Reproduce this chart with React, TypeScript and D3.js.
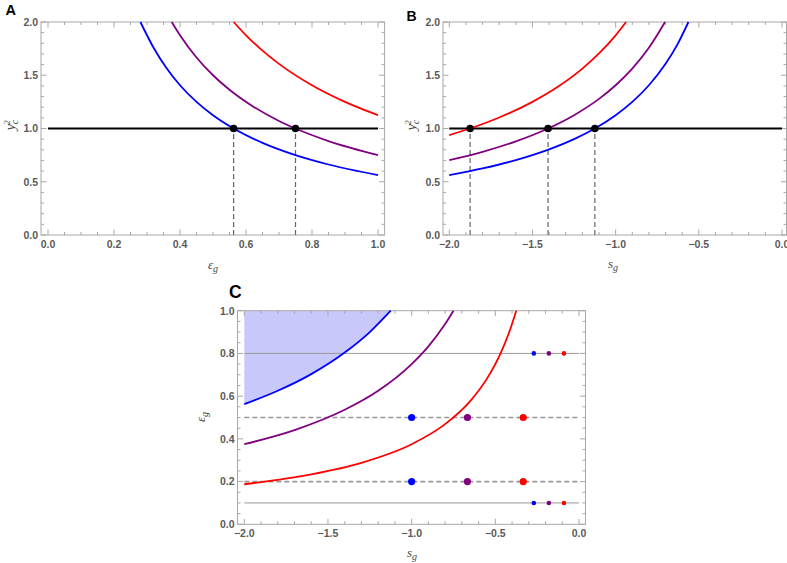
import React from "react";
import * as d3 from "d3";

// ---------- DATA ----------
// Panel A: y_c^2 vs eps_g
const aBlue: [number, number][] = [[0.28, 2.0], [0.32, 1.758], [0.36, 1.5625], [0.4, 1.406], [0.45, 1.25], [0.5, 1.125], [0.5625, 1.0], [0.65, 0.865], [0.75, 0.75], [0.85, 0.662], [1.0, 0.5625]];
const aPurple: [number, number][] = [[0.375, 2.0], [0.4, 1.875], [0.45, 1.667], [0.5, 1.5], [0.55, 1.364], [0.62, 1.21], [0.7, 1.071], [0.75, 1.0], [0.85, 0.882], [1.0, 0.75]];
const aRed: [number, number][] = [[0.5625, 2.0], [0.6, 1.875], [0.65, 1.731], [0.7, 1.607], [0.8, 1.406], [0.9, 1.25], [1.0, 1.125]];
const aCross = [0.5625, 0.75];

// Panel B: y_c^2 vs s_g
const bBlue: [number, number][] = [[-2, 0.5625], [-1.8, 0.625], [-1.6, 0.703], [-1.4, 0.804], [-1.25, 0.9], [-1.125, 1.0], [-1.0, 1.125], [-0.9, 1.25], [-0.8, 1.406], [-0.7, 1.607], [-0.625, 1.8], [-0.5625, 2.0]];
const bPurple: [number, number][] = [[-2, 0.703], [-1.8, 0.781], [-1.6, 0.879], [-1.40625, 1.0], [-1.25, 1.125], [-1.1, 1.278], [-1.0, 1.406], [-0.9, 1.5625], [-0.8, 1.758], [-0.703, 2.0]];
const bRed: [number, number][] = [[-2, 0.9375], [-1.875, 1.0], [-1.7, 1.103], [-1.5, 1.25], [-1.35, 1.389], [-1.2, 1.5625], [-1.1, 1.705], [-1.0, 1.875], [-0.9375, 2.0]];
const bCross = [-1.875, -1.40625, -1.125];

// Panel C: eps_g vs s_g
const cBlue: [number, number][] = [[-2, 0.5625], [-1.8, 0.625], [-1.6, 0.703], [-1.4, 0.804], [-1.25, 0.9], [-1.125, 1.0]];
const cPurple: [number, number][] = [[-2, 0.375], [-1.7, 0.441], [-1.4, 0.536], [-1.2, 0.625], [-1.0, 0.75], [-0.9, 0.833], [-0.8, 0.9375], [-0.75, 1.0]];
const cRed: [number, number][] = [[-2, 0.1875], [-1.6, 0.234], [-1.3, 0.288], [-1.0, 0.375], [-0.8, 0.469], [-0.65, 0.577], [-0.55, 0.682], [-0.47, 0.798], [-0.42, 0.893], [-0.375, 1.0]];
const cSolidLevels = [0.8, 0.1];
const cDashedLevels = [0.5, 0.2];
const cBigDotsS = [-1.0, -0.6667, -0.3333];
const cSmallDotsS = [-0.27, -0.18, -0.09];

const COLORS = ["#0000ff", "#800080", "#ff0000"];

// ticks
const ticksX01 = [0, 0.2, 0.4, 0.6, 0.8, 1.0];
const ticksXs = [-2, -1.5, -1, -0.5, 0];
const ticksY02 = [0, 0.5, 1, 1.5, 2];
const ticksY01 = [0, 0.2, 0.4, 0.6, 0.8, 1.0];

const fmt = (v: number) => d3.format(".1f")(v).replace("-", "\u2212");

type Scale = d3.ScaleLinear<number, number>;

function Frame({ x, y, fx0, fx1, fy0, fy1, xMajor, xMinorStep, yMajor, yMinorStep }: {
  x: Scale; y: Scale; fx0: number; fx1: number; fy0: number; fy1: number;
  xMajor: number[]; xMinorStep: number; yMajor: number[]; yMinorStep: number;
}) {
  const [xd0, xd1] = x.domain();
  const [yd0, yd1] = y.domain();
  const xMinor = d3.range(Math.round((xd1 - xd0) / xMinorStep) + 1).map(i => xd0 + i * xMinorStep);
  const yMinor = d3.range(Math.round((yd1 - yd0) / yMinorStep) + 1).map(i => yd0 + i * yMinorStep);
  const tc = "#a8a8a8";
  const MJ = 5.5, MN = 3;
  const isMajor = (v: number, arr: number[]) => arr.some(a => Math.abs(a - v) < 1e-6);
  return (
    <g>
      <rect x={fx0} y={fy0} width={fx1 - fx0} height={fy1 - fy0} fill="none" stroke={tc} strokeWidth={1} />
      {xMinor.map((v, i) => {
        const L = isMajor(v, xMajor) ? MJ : MN;
        const px = x(v);
        return (
          <g key={"xt" + i}>
            <line x1={px} x2={px} y1={fy1} y2={fy1 - L} stroke={tc} />
            <line x1={px} x2={px} y1={fy0} y2={fy0 + L} stroke={tc} />
          </g>
        );
      })}
      {yMinor.map((v, i) => {
        const L = isMajor(v, yMajor) ? MJ : MN;
        const py = y(v);
        return (
          <g key={"yt" + i}>
            <line x1={fx0} x2={fx0 + L} y1={py} y2={py} stroke={tc} />
            <line x1={fx1} x2={fx1 - L} y1={py} y2={py} stroke={tc} />
          </g>
        );
      })}
      {xMajor.map((v, i) => (
        <text key={"xl" + i} x={x(v)} y={fy1 + 12.5} textAnchor="middle" fontSize={10.5} fontWeight="bold" fill="#5a5a5a" fontFamily="Liberation Sans, Arial, sans-serif">{fmt(v)}</text>
      ))}
      {yMajor.map((v, i) => (
        <text key={"yl" + i} x={fx0 - 3} y={y(v) + 3.8} textAnchor="end" fontSize={10.5} fontWeight="bold" fill="#5a5a5a" fontFamily="Liberation Sans, Arial, sans-serif">{fmt(v)}</text>
      ))}
    </g>
  );
}

const serif = "Liberation Serif, Times New Roman, serif";

function YcLabel({ x, y }: { x: number; y: number }) {
  return (
    <text transform={`translate(${x},${y}) rotate(-90)`} textAnchor="middle" fontFamily={serif} fontStyle="italic" fontSize={14} fill="#444">
      y<tspan fontSize={10} dy={3}>c</tspan><tspan fontSize={9} dx={-5} dy={-8.5}>2</tspan>
    </text>
  );
}

function SubLabel({ x, y, main, sub, rotate }: { x: number; y: number; main: string; sub: string; rotate?: boolean }) {
  return (
    <text transform={`translate(${x},${y})${rotate ? " rotate(-90)" : ""}`} textAnchor="middle" fontFamily={serif} fontStyle="italic" fontSize={13} fill="#444">
      {main}<tspan fontSize={10} dy={3}>{sub}</tspan>
    </text>
  );
}

export default function App() {
  // Panel A
  const ax = d3.scaleLinear().domain([0, 1]).range([48, 378]);
  const ay = d3.scaleLinear().domain([0, 2]).range([235, 22]);
  const lineA = d3.line<[number, number]>().x(d => ax(d[0])).y(d => ay(d[1])).curve(d3.curveMonotoneX);

  // Panel B
  const bx = d3.scaleLinear().domain([-2, 0]).range([449.3, 782]);
  const by = ay;
  const lineB = d3.line<[number, number]>().x(d => bx(d[0])).y(d => by(d[1])).curve(d3.curveMonotoneX);

  // Panel C
  const cx = d3.scaleLinear().domain([-2, 0]).range([244.3, 579]);
  const cy = d3.scaleLinear().domain([0, 1]).range([524.3, 310.7]);
  const lineC = d3.line<[number, number]>().x(d => cx(d[0])).y(d => cy(d[1])).curve(d3.curveMonotoneX);
  const area = (lineC(cBlue) || "") + `L${cx(-2)},${cy(1)}Z`;

  const lw = 1.8;

  return (
    <svg width={787} height={563} style={{ position: "absolute", left: 0, top: 0, background: "#fff" }}>
      {/* Panel A */}
      <text x={5.5} y={14.5} fontFamily="Liberation Sans, Arial, sans-serif" fontWeight="bold" fontSize={14.5} fill="#000">A</text>
      <Frame x={ax} y={ay} fx0={41} fx1={384.6} fy0={22} fy1={235} xMajor={ticksX01} xMinorStep={0.05} yMajor={ticksY02} yMinorStep={0.1} />
      {aCross.map((v, i) => (
        <line key={"ad" + i} x1={ax(v)} x2={ax(v)} y1={ay(0)} y2={ay(1)} stroke="#666" strokeWidth={1.2} strokeDasharray="5,3" />
      ))}
      <line x1={ax(0)} x2={ax(1)} y1={ay(1)} y2={ay(1)} stroke="#000" strokeWidth={2} />
      {[aBlue, aPurple, aRed].map((d, i) => (
        <path key={"ac" + i} d={lineA(d) || ""} fill="none" stroke={COLORS[i]} strokeWidth={lw} />
      ))}
      {aCross.map((v, i) => (
        <circle key={"ap" + i} cx={ax(v)} cy={ay(1)} r={3.8} fill="#000" />
      ))}
      <SubLabel x={213} y={269} main="ε" sub="g" />
      <YcLabel x={15} y={125} />

      {/* Panel B */}
      <text x={406.5} y={20.7} fontFamily="Liberation Sans, Arial, sans-serif" fontWeight="bold" fontSize={14} fill="#000">B</text>
      <Frame x={bx} y={by} fx0={443} fx1={786.5} fy0={22} fy1={235} xMajor={ticksXs} xMinorStep={0.1} yMajor={ticksY02} yMinorStep={0.1} />
      {bCross.map((v, i) => (
        <line key={"bd" + i} x1={bx(v)} x2={bx(v)} y1={by(0)} y2={by(1)} stroke="#666" strokeWidth={1.2} strokeDasharray="5,3" />
      ))}
      <line x1={bx(-2)} x2={bx(0)} y1={by(1)} y2={by(1)} stroke="#000" strokeWidth={2} />
      {[bBlue, bPurple, bRed].map((d, i) => (
        <path key={"bc" + i} d={lineB(d) || ""} fill="none" stroke={COLORS[i]} strokeWidth={lw} />
      ))}
      {bCross.map((v, i) => (
        <circle key={"bp" + i} cx={bx(v)} cy={by(1)} r={3.8} fill="#000" />
      ))}
      <SubLabel x={613} y={268} main="s" sub="g" />
      <YcLabel x={416} y={125} />

      {/* Panel C */}
      <text x={229} y={298.3} fontFamily="Liberation Sans, Arial, sans-serif" fontWeight="bold" fontSize={17.5} fill="#000">C</text>
      <path d={area} fill="#c8c8fa" stroke="none" />
      <Frame x={cx} y={cy} fx0={237.5} fx1={585.5} fy0={310.7} fy1={524.3} xMajor={ticksXs} xMinorStep={0.1} yMajor={ticksY01} yMinorStep={0.05} />
      {cSolidLevels.map((v, i) => (
        <line key={"cs" + i} x1={cx(-2)} x2={cx(0)} y1={cy(v)} y2={cy(v)} stroke="#999" strokeWidth={1} />
      ))}
      {cDashedLevels.map((v, i) => (
        <line key={"cdl" + i} x1={cx(-2)} x2={cx(0)} y1={cy(v)} y2={cy(v)} stroke="#999" strokeWidth={1.6} strokeDasharray="5,3" />
      ))}
      {[cBlue, cPurple, cRed].map((d, i) => (
        <path key={"cc" + i} d={lineC(d) || ""} fill="none" stroke={COLORS[i]} strokeWidth={lw} />
      ))}
      {cDashedLevels.map((lv, j) => cBigDotsS.map((s, i) => (
        <circle key={"cb" + j + "-" + i} cx={cx(s)} cy={cy(lv)} r={3.6} fill={COLORS[i]} />
      )))}
      {cSolidLevels.map((lv, j) => cSmallDotsS.map((s, i) => (
        <circle key={"cm" + j + "-" + i} cx={cx(s)} cy={cy(lv)} r={2.3} fill={COLORS[i]} />
      )))}
      <SubLabel x={412} y={557} main="s" sub="g" />
      <SubLabel x={205} y={417} main="ε" sub="g" rotate />
    </svg>
  );
}
